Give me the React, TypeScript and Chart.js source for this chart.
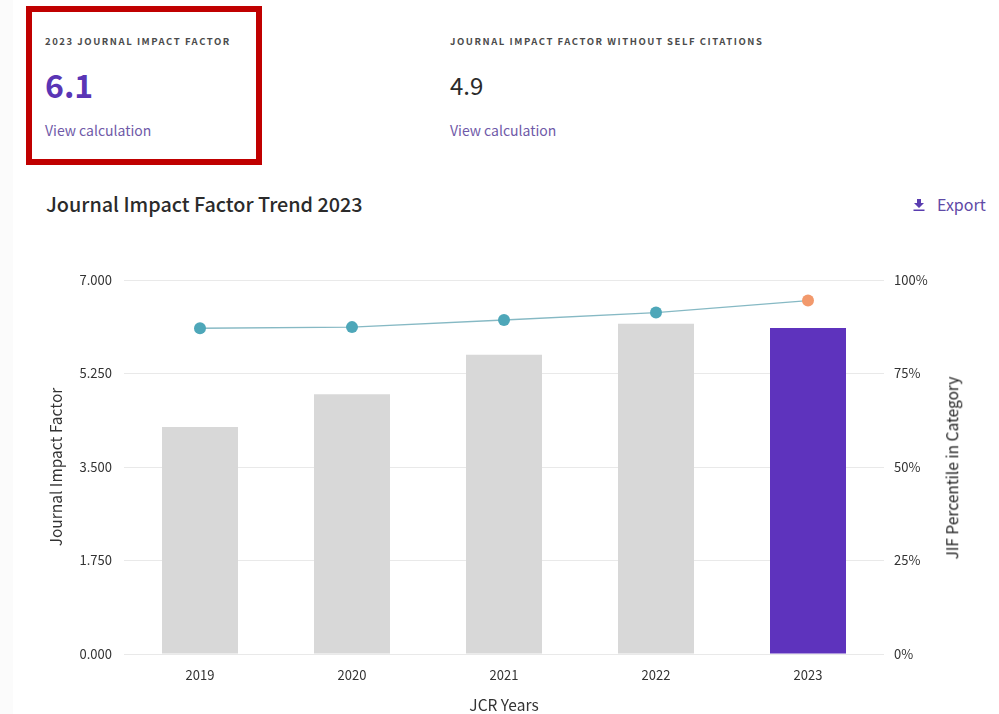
import React, { useEffect, useRef } from "react";
import { Chart, registerables } from "chart.js";

Chart.register(...registerables);

const years = ["2019", "2020", "2021", "2022", "2023"];
const impactFactor = [4.25, 4.86, 5.6, 6.18, 6.1];
const percentile = [87.1, 87.4, 89.3, 91.3, 94.5];
const barColors = ["#d8d8d8", "#d8d8d8", "#d8d8d8", "#d8d8d8", "#5e33bd"];
const pointColors = ["#4ea7b9", "#4ea7b9", "#4ea7b9", "#4ea7b9", "#f2996c"];
const leftTicks = [0, 1.75, 3.5, 5.25, 7];
const rightTicks = [0, 25, 50, 75, 100];

const FONT = '"Noto Sans CJK JP", "Noto Sans", sans-serif';

const at = (left: number, top: number, extra: React.CSSProperties = {}): React.CSSProperties => ({
  position: "absolute",
  left,
  top,
  whiteSpace: "nowrap",
  fontFamily: FONT,
  lineHeight: 1,
  ...extra,
});

const eyebrow: React.CSSProperties = {
  fontSize: 9.5,
  fontWeight: 700,
  letterSpacing: 1.55,
  color: "#4b4b4b",
};
const linkStyle: React.CSSProperties = { fontSize: 14, color: "#6f5aa8" };

export default function App() {
  const ref = useRef<HTMLCanvasElement>(null);

  useEffect(() => {
    const chart = new Chart(ref.current!, {
      data: {
        labels: years,
        datasets: [
          {
            type: "line",
            data: percentile,
            yAxisID: "pct",
            borderColor: "#86b9c4",
            borderWidth: 1.3,
            pointRadius: 6,
            pointBorderWidth: 0,
            pointBackgroundColor: pointColors,
            order: 0,
          },
          {
            type: "bar",
            data: impactFactor,
            yAxisID: "jif",
            backgroundColor: barColors,
            categoryPercentage: 0.5,
            barPercentage: 1,
            order: 1,
          },
        ],
      },
      options: {
        responsive: false,
        animation: false,
        layout: { padding: { left: 47, right: 0, top: 280, bottom: 0 } },
        plugins: { legend: { display: false }, tooltip: { enabled: false } },
        scales: {
          x: {
            grid: { display: false },
            border: { display: false },
            ticks: { color: "#333", font: { family: FONT, size: 13 }, padding: 5, maxRotation: 0 },
            title: { display: true, text: "JCR Years", color: "#333", font: { family: FONT, size: 15.5 }, padding: { top: 6, bottom: 0 } },
            afterFit: (s: any) => { s.height = 60; },
          },
          jif: {
            position: "left",
            min: 0,
            max: 7,
            afterBuildTicks: (s: any) => { s.ticks = leftTicks.map((value) => ({ value })); },
            grid: { color: "#e9e9e9", lineWidth: 1, drawTicks: false },
            border: { display: false },
            ticks: { color: "#333", font: { family: FONT, size: 13 }, padding: 12, callback: (v: any) => Number(v).toFixed(3) },
            title: { display: true, text: "Journal Impact Factor", color: "#333", font: { family: FONT, size: 15.5 }, padding: { top: 0, bottom: 0 } },
            afterFit: (s: any) => { s.width = 77; },
          },
          pct: {
            position: "right",
            min: 0,
            max: 100,
            afterBuildTicks: (s: any) => { s.ticks = rightTicks.map((value) => ({ value })); },
            grid: { display: false, drawTicks: false },
            border: { display: false },
            ticks: { color: "#333", font: { family: FONT, size: 13 }, padding: 10, callback: (v: any) => `${v}%` },
            afterFit: (s: any) => { s.width = 115; },
          },
        },
      },
    } as any);
    return () => chart.destroy();
  }, []);

  return (
    <div style={{ position: "absolute", left: 0, top: 0, width: 999, height: 714, background: "#fff", overflow: "hidden" }}>
      <div style={{ position: "absolute", left: 0, top: 0, width: 13, height: 714, background: "#fbfbfb" }} />
      <div style={{ position: "absolute", left: 26, top: 6, width: 224, height: 147, border: "6px solid #c00000" }} />
      <div style={at(45, 37, eyebrow)}>2023 JOURNAL IMPACT FACTOR</div>
      <div style={at(45, 68, { fontSize: 32, fontWeight: 700, color: "#5a35b5" })}>6.1</div>
      <div style={at(45, 123, linkStyle)}>View calculation</div>
      <div style={at(450, 37, eyebrow)}>JOURNAL IMPACT FACTOR WITHOUT SELF CITATIONS</div>
      <div style={at(450, 73, { fontSize: 24, color: "#2b2b2b" })}>4.9</div>
      <div style={at(450, 123, linkStyle)}>View calculation</div>
      <div style={at(46, 194, { fontSize: 19.8, fontWeight: 500, color: "#2b2b2b" })}>Journal Impact Factor Trend 2023</div>
      <svg style={{ position: "absolute", left: 912, top: 198 }} width="14" height="14" viewBox="0 0 14 14">
        <path d="M5 1h4v4h3L7 10 2 5h3zM1.500 11.500h11v1.500h-11z" fill="#5a3db0" />
      </svg>
      <div style={at(937, 196, { fontSize: 16, color: "#5f4aa6" })}>Export</div>
      <canvas ref={ref} width={999} height={714} style={{ position: "absolute", left: 0, top: 0, width: 999, height: 714 }} />
      <div
        style={at(952, 468, {
          fontSize: 15.5,
          color: "#222",
          transform: "translate(-50%, -50%) rotate(-90deg)",
        })}
      >
        JIF Percentile in Category
      </div>
    </div>
  );
}
